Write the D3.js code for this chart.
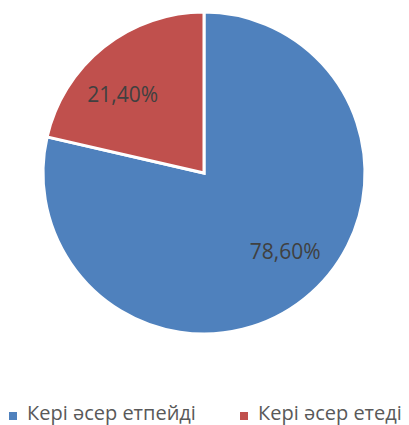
<!DOCTYPE html>
<html>
<head>
<meta charset="utf-8">
<script src="https://cdn.jsdelivr.net/npm/d3@7"></script>
<style>
  body { margin: 0; background: #fff; }
  svg { display: block; }
</style>
</head>
<body>
<svg id="chart" width="409" height="425"></svg>
<script>
const categories = ["Кері әсер етпейді", "Кері әсер етеді"];
const values = [78.6, 21.4];
const labels = ["78,60%", "21,40%"];
const colors = ["#4F81BD", "#C0504D"];

const svg = d3.select("#chart");
const cx = 204, cy = 173, radius = 161;

const pie = d3.pie().sort(null).value(d => d);
const arcs = pie(values);

const arc = d3.arc().innerRadius(0).outerRadius(radius);

const g = svg.append("g").attr("transform", `translate(${cx},${cy})`);

// slices
g.selectAll("path")
  .data(arcs)
  .enter().append("path")
  .attr("d", arc)
  .attr("fill", (d, i) => colors[i])
  .attr("stroke", "#fff")
  .attr("stroke-width", 3)
  .attr("stroke-linejoin", "miter");

// percentage labels, placed a little before the middle angle like excel does
function labelPos(d) {
  const a = (d.startAngle + d.endAngle) / 2 - 0.13;
  const r = 113;
  return [r * Math.sin(a), -r * Math.cos(a)];
}

g.selectAll("text.lbl")
  .data(arcs)
  .enter().append("text")
  .attr("class", "lbl")
  .attr("x", d => labelPos(d)[0])
  .attr("y", d => labelPos(d)[1])
  .attr("dy", "0.35em")
  .attr("text-anchor", "middle")
  .style("font-family", "'Open Sans', sans-serif")
  .style("font-size", "21px")
  .attr("fill", "#404040")
  .text((d, i) => labels[i]);

// legend
const legendX = [9, 240];
const legend = svg.append("g");
categories.forEach((c, i) => {
  legend.append("rect")
    .attr("x", legendX[i])
    .attr("y", 412)
    .attr("width", 8)
    .attr("height", 8)
    .attr("fill", colors[i]);
  legend.append("text")
    .attr("x", legendX[i] + 18)
    .attr("y", 420)
    .style("font-family", "'Open Sans', sans-serif")
    .style("font-size", "20px")
    .attr("fill", "#595959")
    .text(c);
});
</script>
</body>
</html>
